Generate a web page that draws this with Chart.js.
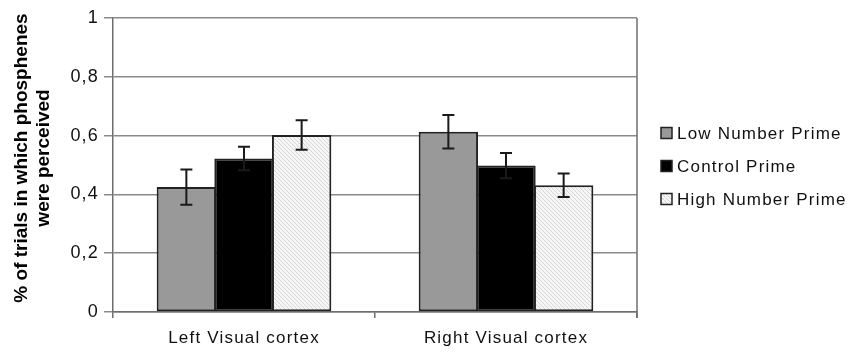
<!DOCTYPE html>
<html>
<head>
<meta charset="utf-8">
<script src="https://cdn.jsdelivr.net/npm/chart.js@4/dist/chart.umd.min.js"></script>
<style>
  html, body { margin: 0; padding: 0; background: #fff; }
  #wrap { width: 850px; height: 352px; }
</style>
</head>
<body>
<div id="wrap"><canvas id="chart" width="850" height="352"></canvas></div>
<script>
// data
const categories = ['Left Visual cortex', 'Right Visual cortex'];
const seriesNames = ['Low Number Prime', 'Control Prime', 'High Number Prime'];
const lowPrime = [0.425, 0.613];
const controlPrime = [0.522, 0.498];
const highPrime = [0.602, 0.431];
const lowErr = [0.06, 0.057];
const controlErr = [0.04, 0.043];
const highErr = [0.05, 0.04];
const yTickValues = [0, 0.2, 0.4, 0.6, 0.8, 1];
const yTickLabels = ['0', '0,2', '0,4', '0,6', '0,8', '1'];
const yTitle = ['% of trials in which phosphenes', 'were perceived'];

const FONT = '"Liberation Sans", Arial, sans-serif';
const SPACING = '1.2px';

// light hatched fill for the "high" bars
function makeHatch() {
  const c = document.createElement('canvas');
  c.width = 4; c.height = 4;
  const g = c.getContext('2d');
  g.fillStyle = '#f6f6f6';
  g.fillRect(0, 0, 4, 4);
  g.strokeStyle = '#d6d6d6';
  g.lineWidth = 1;
  g.beginPath();
  g.moveTo(-1, -1); g.lineTo(5, 5);
  g.moveTo(-1, 3); g.lineTo(1, 5);
  g.moveTo(3, -1); g.lineTo(5, 1);
  g.stroke();
  return g.createPattern(c, 'repeat');
}

const ctx = document.getElementById('chart').getContext('2d');
const hatch = makeHatch();
const errors = [lowErr, controlErr, highErr];

const spacingPlugin = {
  id: 'spacing',
  beforeLayout(chart) { chart.ctx.letterSpacing = SPACING; },
  beforeDraw(chart) { chart.ctx.letterSpacing = SPACING; }
};

const framePlugin = {
  id: 'frame',
  afterDraw(chart) {
    const { ctx, chartArea } = chart;
    ctx.save();
    ctx.strokeStyle = '#6e6e6e';
    ctx.lineWidth = 1.5;
    ctx.beginPath();
    ctx.moveTo(chartArea.right, chartArea.top);
    ctx.lineTo(chartArea.right, chartArea.bottom + 6);
    ctx.stroke();
    ctx.restore();
  }
};

const errorBarPlugin = {
  id: 'errorBars',
  afterDatasetsDraw(chart) {
    const { ctx } = chart;
    const y = chart.scales.y;
    ctx.save();
    ctx.strokeStyle = '#1a1a1a';
    ctx.lineWidth = 2;
    chart.data.datasets.forEach((ds, i) => {
      const meta = chart.getDatasetMeta(i);
      meta.data.forEach((bar, j) => {
        const v = ds.data[j];
        const e = errors[i][j];
        const top = y.getPixelForValue(v + e);
        const bot = y.getPixelForValue(v - e);
        const x = bar.x;
        ctx.beginPath();
        ctx.moveTo(x, top); ctx.lineTo(x, bot);
        ctx.moveTo(x - 6, top); ctx.lineTo(x + 6, top);
        ctx.moveTo(x - 6, bot); ctx.lineTo(x + 6, bot);
        ctx.stroke();
      });
    });
    ctx.restore();
  }
};

const titlePlugin = {
  id: 'yTitle',
  afterDraw(chart) {
    const { ctx } = chart;
    ctx.save();
    ctx.letterSpacing = '0px';
    ctx.fillStyle = '#000';
    ctx.font = 'bold 19px ' + FONT;
    ctx.textAlign = 'center';
    ctx.textBaseline = 'middle';
    const pos = [[22, 158], [44, 158]];
    yTitle.forEach((t, i) => {
      ctx.save();
      ctx.translate(pos[i][0], pos[i][1]);
      ctx.rotate(-Math.PI / 2);
      ctx.fillText(t, 0, 0);
      ctx.restore();
    });
    ctx.restore();
  }
};

const legendPlugin = {
  id: 'sideLegend',
  afterDraw(chart) {
    const { ctx } = chart;
    ctx.save();
    ctx.letterSpacing = SPACING;
    ctx.font = '17px ' + FONT;
    ctx.textBaseline = 'middle';
    ctx.textAlign = 'left';
    const rows = [133, 166, 199];
    chart.data.datasets.forEach((ds, i) => {
      const yc = rows[i];
      ctx.fillStyle = ds.backgroundColor;
      ctx.fillRect(661, yc - 5.5, 11, 11);
      ctx.strokeStyle = '#222';
      ctx.lineWidth = 1.5;
      ctx.strokeRect(661, yc - 5.5, 11, 11);
      ctx.fillStyle = '#111';
      ctx.fillText(ds.label, 677, yc + 1);
    });
    ctx.restore();
  }
};

new Chart(ctx, {
  type: 'bar',
  data: {
    labels: categories,
    datasets: [
      { label: seriesNames[0], data: lowPrime, backgroundColor: '#999999' },
      { label: seriesNames[1], data: controlPrime, backgroundColor: '#000000' },
      { label: seriesNames[2], data: highPrime, backgroundColor: hatch }
    ].map(d => Object.assign(d, {
      borderColor: '#222222',
      borderWidth: 2,
      borderSkipped: false,
      categoryPercentage: 0.66,
      barPercentage: 1.03
    }))
  },
  options: {
    responsive: false,
    animation: false,
    events: [],
    layout: { padding: { top: 18, right: 213, left: 0, bottom: 0 } },
    plugins: {
      legend: { display: false },
      tooltip: { enabled: false }
    },
    scales: {
      x: {
        grid: {
          drawOnChartArea: false,
          drawTicks: true,
          tickLength: 6,
          color: '#6e6e6e',
          lineWidth: 1.5
        },
        border: { color: '#6e6e6e', width: 1.5 },
        ticks: {
          color: '#111',
          font: { family: FONT, size: 17 },
          padding: 10,
          maxRotation: 0
        },
        afterFit: s => { s.height = 40; }
      },
      y: {
        min: 0,
        max: 1,
        afterBuildTicks: s => { s.ticks = yTickValues.map(v => ({ value: v })); },
        grid: {
          color: '#8a8a8a',
          lineWidth: 1.5,
          tickLength: 9,
          drawTicks: true
        },
        border: { color: '#6e6e6e', width: 1.5 },
        ticks: {
          color: '#111',
          font: { family: FONT, size: 18 },
          padding: 5,
          callback: (v, i) => yTickLabels[i]
        },
        afterFit: s => { s.width = 113; }
      }
    }
  },
  plugins: [spacingPlugin, errorBarPlugin, framePlugin, titlePlugin, legendPlugin]
});
</script>
</body>
</html>
